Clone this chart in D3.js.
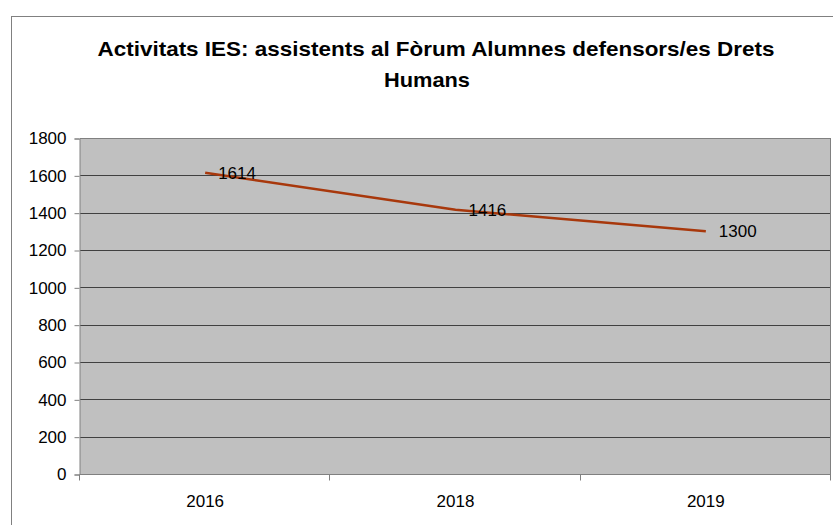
<!DOCTYPE html>
<meta charset="utf-8">
<style>
body { margin: 0; background: #fff; }
text { font-family: "Liberation Sans", Arial, sans-serif; }
</style>
<body>
<script src="https://cdn.jsdelivr.net/npm/d3@7"></script>
<script>

var years = ["2016", "2018", "2019"];
var assistents = [1614, 1416, 1300];
var yTicks = [0, 200, 400, 600, 800, 1000, 1200, 1400, 1600, 1800];

var width = 833,
    height = 525;

var plot = {left: 80, right: 831, top: 138, bottom: 474};

var svg = d3.select("body").append("svg")
    .attr("width", width)
    .attr("height", height);

// outer chart frame
svg.append("rect")
    .attr("x", 11.5).attr("y", 16.5)
    .attr("width", 900).attr("height", 600)
    .attr("fill", "#fff")
    .attr("stroke", "#808080");

// title
var title = svg.append("text")
    .attr("text-anchor", "middle")
    .style("font-weight", "bold")
    .style("font-size", "21px");
title.append("tspan").attr("x", 436).attr("y", 56)
    .attr("textLength", 677)
    .attr("lengthAdjust", "spacingAndGlyphs")
    .text("Activitats IES: assistents al Fòrum Alumnes defensors/es Drets");
title.append("tspan").attr("x", 427).attr("y", 87)
    .attr("textLength", 86)
    .attr("lengthAdjust", "spacingAndGlyphs")
    .text("Humans");

var x = d3.scaleBand()
    .domain(years)
    .range([plot.left, plot.right]);

var y = d3.scaleLinear()
    .domain([0, 1800])
    .range([plot.bottom, plot.top]);

// plot background
svg.append("rect")
    .attr("x", plot.left).attr("y", plot.top)
    .attr("width", plot.right - plot.left)
    .attr("height", plot.bottom - plot.top)
    .attr("fill", "#c0c0c0");

// gridlines
svg.append("g").selectAll("line")
    .data(yTicks)
  .enter().append("line")
    .attr("x1", plot.left).attr("x2", plot.right)
    .attr("y1", function(d) { return Math.round(y(d)) + 0.5; })
    .attr("y2", function(d) { return Math.round(y(d)) + 0.5; })
    .attr("stroke", function(d) { return d == 0 || d == 1800 ? "#808080" : "#404040"; });

// right border of plot
svg.append("line")
    .attr("x1", plot.right - 0.5).attr("x2", plot.right - 0.5)
    .attr("y1", plot.top).attr("y2", plot.bottom)
    .attr("stroke", "#808080");

// y axis
var yAxis = svg.append("g")
    .attr("transform", "translate(" + (plot.left - 0.5) + ",0.5)")
    .call(d3.axisLeft(y).tickValues(yTicks).tickFormat(d3.format("d")).tickSize(5).tickPadding(8));
yAxis.selectAll("path, line").attr("stroke", "#808080");
yAxis.selectAll("text")
    .attr("fill", "#000")
    .style("font-size", "17px")
    .style("font-family", "Liberation Sans, Arial, sans-serif");

// x axis: ticks between categories
var xAxis = svg.append("g")
    .attr("transform", "translate(0," + (plot.bottom + 0.5) + ")");
xAxis.append("line")
    .attr("x1", plot.left).attr("x2", plot.right)
    .attr("stroke", "#808080");
var bounds = years.map(function(d) { return x(d); }).concat([plot.right]);
xAxis.selectAll(".tk")
    .data(bounds)
  .enter().append("line")
    .attr("x1", function(d) { return Math.round(d) - 0.5; })
    .attr("x2", function(d) { return Math.round(d) - 0.5; })
    .attr("y1", 0).attr("y2", 6)
    .attr("stroke", "#808080");
xAxis.selectAll(".lbl")
    .data(years)
  .enter().append("text")
    .attr("x", function(d) { return x(d) + x.bandwidth() / 2; })
    .attr("y", 32)
    .attr("text-anchor", "middle")
    .style("font-size", "17px")
    .text(function(d) { return d; });

// line
var pts = years.map(function(d, i) { return [x(d) + x.bandwidth() / 2, y(assistents[i])]; });

svg.append("path")
    .datum(pts)
    .attr("d", d3.line())
    .attr("fill", "none")
    .attr("stroke", "#a8380c")
    .attr("stroke-width", 2.5);

// value labels
svg.selectAll(".val")
    .data(pts)
  .enter().append("text")
    .attr("x", function(d) { return d[0] + 13; })
    .attr("y", function(d) { return d[1]; })
    .attr("dy", "0.35em")
    .style("font-size", "17px")
    .text(function(d, i) { return assistents[i]; });

</script>
</body>
